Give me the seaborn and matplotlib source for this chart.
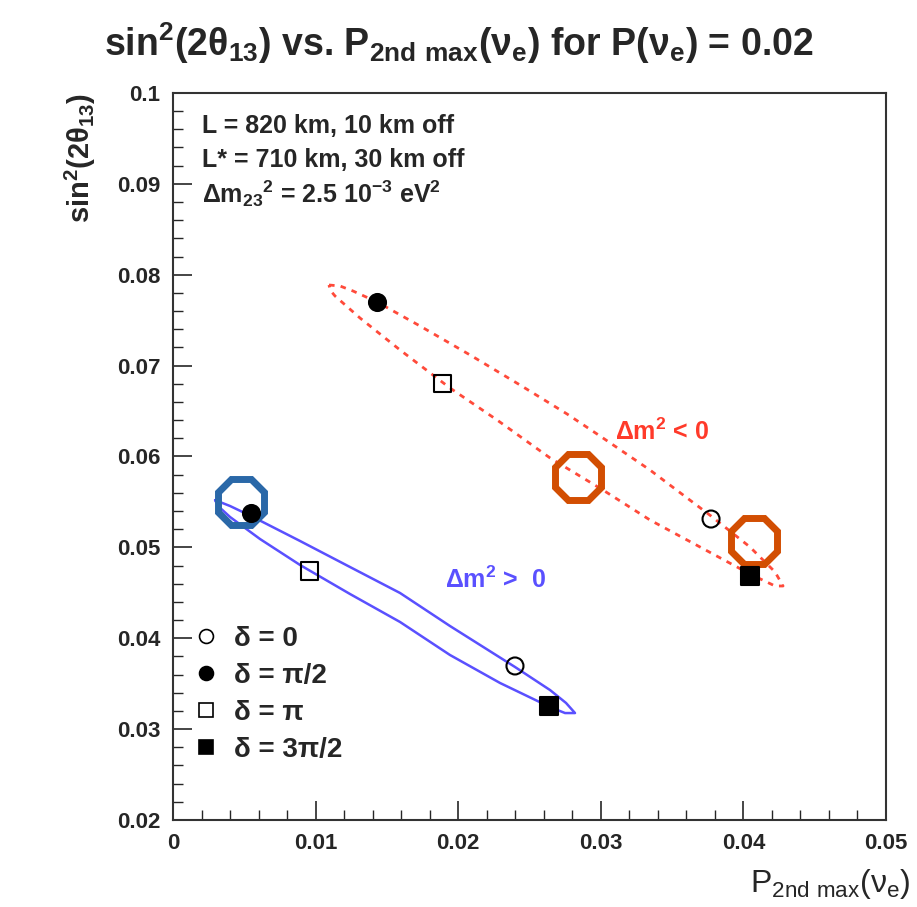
import numpy as np
import pandas as pd
import matplotlib
matplotlib.use("Agg")
import matplotlib.pyplot as plt
import seaborn as sns
from matplotlib.lines import Line2D
from matplotlib.ticker import MultipleLocator

# contour of dm2 > 0 region
pos_x = [0.00295, 0.0040, 0.00547, 0.00891, 0.01241, 0.01592, 0.01942, 0.02398,
         0.02644, 0.02756, 0.02819, 0.02749, 0.02644, 0.02293, 0.01942, 0.01592,
         0.01241, 0.00891, 0.0061, 0.0040, 0.00316, 0.00295]
pos_y = [0.0552, 0.05455, 0.05345, 0.0507, 0.04784, 0.04498, 0.04135, 0.03684,
         0.0343, 0.03288, 0.03177, 0.03177, 0.03243, 0.03508, 0.03816, 0.04179,
         0.04487, 0.04806, 0.05092, 0.05334, 0.05455, 0.0552]

# contour of dm2 < 0 region
neg_x = [0.01094, 0.01171, 0.01262, 0.01431, 0.01732, 0.02083, 0.02433, 0.02763,
         0.02994, 0.03345, 0.03773, 0.04046, 0.04222, 0.04278, 0.04222, 0.04046,
         0.03696, 0.03345, 0.03015, 0.02644, 0.02272, 0.01942, 0.01592, 0.01311,
         0.01136, 0.01101, 0.01094]
neg_y = [0.07887, 0.07876, 0.07821, 0.07700, 0.07436, 0.07117, 0.06787, 0.06468,
         0.06226, 0.05851, 0.05345, 0.05004, 0.04729, 0.04575, 0.04575, 0.04707,
         0.05004, 0.05301, 0.05631, 0.05984, 0.06402, 0.06754, 0.07172, 0.07524,
         0.07766, 0.07832, 0.07887]

# delta points: 0, pi/2, pi, 3pi/2
delta_labels = ["δ = 0", "δ = π/2", "δ = π", "δ = 3π/2"]
pos_px = [0.02398, 0.00547, 0.00954, 0.02637]
pos_py = [0.03695, 0.05378, 0.0474, 0.03254]
neg_px = [0.03773, 0.01431, 0.01893, 0.04046]
neg_py = [0.05312, 0.07700, 0.06798, 0.04685]

# highlighted octagons
oct_blue_x = [0.00477]
oct_blue_y = [0.05499]
oct_orange_x = [0.0284, 0.04074]
oct_orange_y = [0.05774, 0.0507]

xticks = [0, 0.01, 0.02, 0.03, 0.04, 0.05]
xtick_labels = ["0", "0.01", "0.02", "0.03", "0.04", "0.05"]
yticks = [0.02, 0.03, 0.04, 0.05, 0.06, 0.07, 0.08, 0.09, 0.1]
ytick_labels = ["0.02", "0.03", "0.04", "0.05", "0.06", "0.07", "0.08", "0.09", "0.1"]

sns.set_style("ticks")
plt.rcParams["font.family"] = ["Liberation Sans", "DejaVu Sans"]
plt.rcParams["mathtext.default"] = "regular"

fig = plt.figure(figsize=(9.17, 9.07), dpi=100)
ax = fig.add_axes([0.1887, 0.0959, 0.7775, 0.8016])

pos_df = pd.DataFrame({"x": pos_x, "y": pos_y, "i": range(len(pos_x))})
neg_df = pd.DataFrame({"x": neg_x, "y": neg_y, "i": range(len(neg_x))})
sns.lineplot(data=pos_df, x="x", y="y", sort=False, estimator=None, color="#5a50ff",
             lw=1.8, ax=ax)
sns.lineplot(data=neg_df, x="x", y="y", sort=False, estimator=None, color="#ff4a3a",
             lw=2.0, ax=ax, dashes=False)
ax.lines[-1].set_linestyle((0, (2.0, 2.2)))

# octagons
ax.plot(oct_blue_x, oct_blue_y, marker="8", ms=36, mfc="none", mec="#2a68a8",
        mew=5, ls="none")
ax.plot(oct_orange_x, oct_orange_y, marker="8", ms=36, mfc="none", mec="#d24e02",
        mew=5, ls="none")

# delta markers
marker_styles = [("o", "none"), ("o", "black"), ("s", "none"), ("s", "black")]
for k, (m, fc) in enumerate(marker_styles):
    ax.scatter([pos_px[k], neg_px[k]], [pos_py[k], neg_py[k]], marker=m, s=150,
               facecolors=fc, edgecolors="black", linewidths=1.5, zorder=5)

handles = [Line2D([], [], marker=m, ls="none", ms=10, mfc=fc, mec="black", mew=1.2)
           for m, fc in marker_styles]
ax.legend(handles, delta_labels, loc="lower left", bbox_to_anchor=(-0.02, 0.044),
          frameon=False, handletextpad=0.2, labelspacing=0.4, handlelength=1.6,
          prop={"weight": "bold", "size": 20})

ax.text(0.04, 0.955, "L = 820 km, 10 km off", transform=ax.transAxes,
        fontsize=18, fontweight="bold", va="center")
ax.text(0.04, 0.908, "L* = 710 km, 30 km off", transform=ax.transAxes,
        fontsize=18, fontweight="bold", va="center")
ax.text(0.04, 0.861, r"Δm$_{23}$$^2$ = 2.5 10$^{-3}$ eV$^2$", transform=ax.transAxes,
        fontsize=18, fontweight="bold", va="center")

ax.text(0.0310, 0.0627, r"Δm$^2$ < 0", color="#ff3a2a", fontsize=18,
        fontweight="bold", va="center")
ax.text(0.0191, 0.0464, r"Δm$^2$ >  0", color="#5a50ff", fontsize=18,
        fontweight="bold", va="center")

ax.set_xlim(0, 0.05)
ax.set_ylim(0.02, 0.1)
ax.set_xticks(xticks)
ax.set_xticklabels(xtick_labels, fontsize=16, fontweight="bold")
ax.set_yticks(yticks)
ax.set_yticklabels(ytick_labels, fontsize=16, fontweight="bold")
ax.xaxis.set_minor_locator(MultipleLocator(0.002))
ax.yaxis.set_minor_locator(MultipleLocator(0.002))
ax.tick_params(which="major", direction="in", length=14, width=1.2, pad=9)
ax.tick_params(which="minor", direction="in", length=7, width=1.0)
ax.tick_params(top=False, right=False)
for sp in ax.spines.values():
    sp.set_visible(True)
    sp.set_linewidth(1.5)
    sp.set_color("#333333")

ax.set_xlabel(r"P$_{2nd\ max}$(ν$_e$)", fontsize=23, loc="right", labelpad=10)
ax.xaxis.set_label_coords(1.035, -0.065)
ax.set_ylabel(r"sin$^2$(2θ$_{13}$)", fontsize=21, fontweight="bold", loc="top",
              labelpad=14)
fig.suptitle(r"sin$^2$(2θ$_{13}$) vs. P$_{2nd\ max}$(ν$_e$) for P(ν$_e$) = 0.02",
             x=0.5, y=0.977, fontsize=27, fontweight="bold")

fig.savefig("out.png", dpi=100)
